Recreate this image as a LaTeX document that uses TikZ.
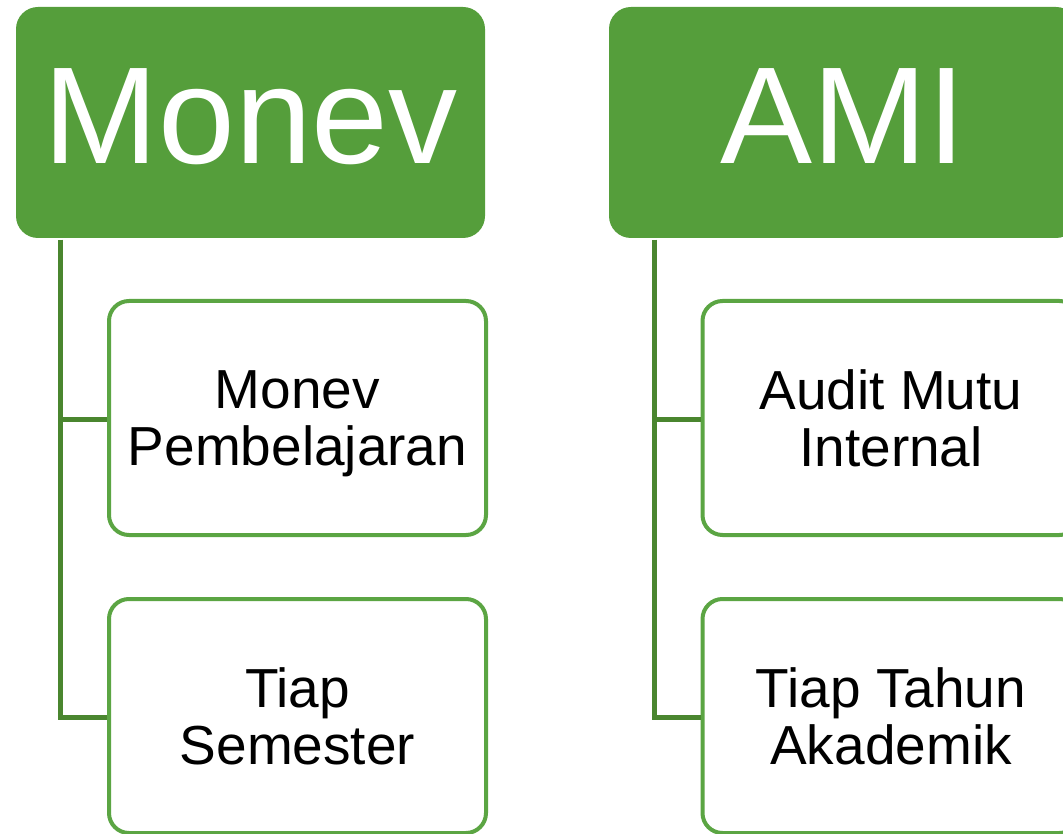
\documentclass[tikz,border=0pt]{standalone}
\usepackage{fontspec}
\setmainfont{Liberation Sans}
\definecolor{hdrgreen}{HTML}{559E3B}
\definecolor{boxgreen}{HTML}{5BA543}
\definecolor{lingreen}{HTML}{4A862F}
\tikzset{
  hdr/.style={fill=hdrgreen, rounded corners=22pt, minimum width=469pt, minimum height=231pt, inner sep=0pt, text=white, font=\fontsize{138}{138}\selectfont, text depth=13pt},
  child/.style={draw=boxgreen, line width=4pt, fill=white, rounded corners=20pt, minimum width=377pt, minimum height=234pt, inner sep=0pt, align=center, font=\fontsize{55}{57}\selectfont, text depth=0pt},
  conn/.style={draw=lingreen, line width=5pt}
}
\begin{document}
\begin{tikzpicture}[x=1pt,y=-1pt]
\useasboundingbox (0,0) rectangle (1063,834);
\clip (0,0) rectangle (1063,834);
\node[hdr] (h1) at (250.5,122.5) {Monev};
\node[hdr] (h2) at (843.5,122.5) {AMI};
\coordinate (t1) at (60,240);
\coordinate (t2) at (654,240);
\node[child] (c11) at (297.5,418) {Monev\\Pembelajaran};
\node[child] (c12) at (297.5,716) {Tiap\\Semester};
\node[child] (c21) at (891,418) {Audit Mutu\\Internal};
\node[child] (c22) at (891,716) {Tiap Tahun\\Akademik};
\draw[conn] (t1) |- ([yshift=-1pt]c11.west);
\draw[conn] (t1) |- ([yshift=-1pt]c12.west);
\draw[conn] (t2) |- ([yshift=-1pt]c21.west);
\draw[conn] (t2) |- ([yshift=-1pt]c22.west);
\end{tikzpicture}
\end{document}
